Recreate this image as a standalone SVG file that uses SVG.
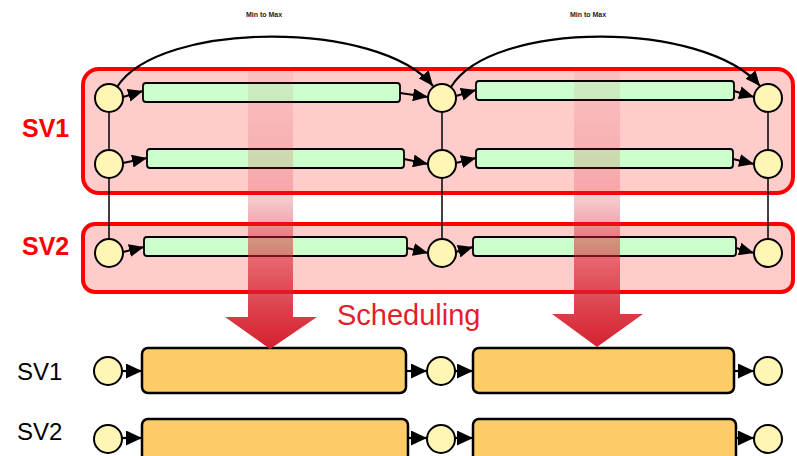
<svg xmlns="http://www.w3.org/2000/svg" width="797" height="456" viewBox="0 0 797 456">
<style>
.sv{fill:#ffcccc;stroke:#ff0000;stroke-width:4}
.bar{fill:#ccffcc;stroke:#000;stroke-width:1.8}
.nd{fill:#fff5b5;stroke:#000;stroke-width:2}
.ob{fill:#fecb69;stroke:#000;stroke-width:2.5}
.c{stroke:#000;stroke-width:2.2;fill:none}
.v{stroke:#000;stroke-width:1.5;fill:none}
.lbl{font-family:'Liberation Sans',Arial,sans-serif;font-weight:bold;font-size:25px;fill:#ff0000}
.lb2{font-family:'Liberation Sans',Arial,sans-serif;font-size:24px;fill:#000}
.mm{font-family:'Liberation Sans',Arial,sans-serif;font-weight:bold;font-size:7px;fill:#222;text-anchor:middle}
.big{fill:url(#g)}
</style>
<defs>
<marker id="a" markerUnits="userSpaceOnUse" markerWidth="15" markerHeight="13" refX="15" refY="6.5" orient="auto"><path d="M0,0 L15,6.5 L0,13 z" fill="#000"/></marker>
<marker id="b" markerUnits="userSpaceOnUse" markerWidth="16" markerHeight="15" refX="16" refY="7.5" orient="auto"><path d="M0,0 L16,7.5 L0,15 z" fill="#000"/></marker>
<linearGradient id="g" x1="0" y1="70" x2="0" y2="349" gradientUnits="userSpaceOnUse">
<stop offset="0" stop-color="#c8303a" stop-opacity="0.07"/>
<stop offset="0.45" stop-color="#d6202e" stop-opacity="0.22"/>
<stop offset="0.62" stop-color="#d6202e" stop-opacity="0.5"/>
<stop offset="0.85" stop-color="#d6202e" stop-opacity="0.85"/>
<stop offset="1" stop-color="#d6202e" stop-opacity="1"/>
</linearGradient>
</defs>

<g id="sv1-box"><rect class="sv" x="83" y="69" width="710" height="124" rx="16"/></g>
<g id="sv2-box"><rect class="sv" x="83" y="224" width="710" height="68" rx="12"/></g>

<text class="mm" x="264" y="17">Min to Max</text>
<text class="mm" x="588" y="17">Min to Max</text>
<text class="lbl" x="22" y="137">SV1</text>
<text class="lbl" x="22" y="255">SV2</text>

<g id="connectors">
<line class="v" x1="109" y1="98" x2="109" y2="253"/>
<line class="v" x1="442" y1="98" x2="442" y2="253"/>
<line class="v" x1="768" y1="98" x2="768" y2="253"/>
<path class="c" d="M117,87 C160,20 380,20 433,86" marker-end="url(#a)"/>
<path class="c" d="M451,87 C492,20 705,20 760,86" marker-end="url(#a)"/>
<line class="c" x1="123" y1="97" x2="143" y2="91" marker-end="url(#a)"/>
<line class="c" x1="400" y1="93" x2="428" y2="97" marker-end="url(#a)"/>
<line class="c" x1="456" y1="96" x2="476" y2="90" marker-end="url(#a)"/>
<line class="c" x1="734" y1="91" x2="754" y2="97" marker-end="url(#a)"/>
<line class="c" x1="123" y1="163" x2="147" y2="158" marker-end="url(#a)"/>
<line class="c" x1="404" y1="159" x2="428" y2="164" marker-end="url(#a)"/>
<line class="c" x1="456" y1="163" x2="476" y2="158" marker-end="url(#a)"/>
<line class="c" x1="733" y1="159" x2="754" y2="164" marker-end="url(#a)"/>
<line class="c" x1="123" y1="252" x2="144" y2="247" marker-end="url(#a)"/>
<line class="c" x1="407" y1="248" x2="428" y2="253" marker-end="url(#a)"/>
<line class="c" x1="456" y1="252" x2="473" y2="247" marker-end="url(#a)"/>
<line class="c" x1="736" y1="248" x2="754" y2="253" marker-end="url(#a)"/>
<line class="c" x1="122" y1="371" x2="142" y2="371" marker-end="url(#b)"/>
<line class="c" x1="406" y1="371" x2="427" y2="371" marker-end="url(#b)"/>
<line class="c" x1="455" y1="371" x2="473" y2="371" marker-end="url(#b)"/>
<line class="c" x1="734" y1="371" x2="754" y2="371" marker-end="url(#b)"/>
<line class="c" x1="122" y1="438" x2="142" y2="438" marker-end="url(#b)"/>
<line class="c" x1="408" y1="438" x2="427" y2="438" marker-end="url(#b)"/>
<line class="c" x1="455" y1="438" x2="473" y2="438" marker-end="url(#b)"/>
<line class="c" x1="736" y1="438" x2="754" y2="438" marker-end="url(#b)"/>
</g>

<g id="t1a"><rect class="bar" x="143" y="83" width="257" height="19" rx="3"/></g>
<g id="t1b"><rect class="bar" x="476" y="81" width="258" height="19" rx="3"/></g>
<g id="t2a"><rect class="bar" x="147" y="149" width="257" height="19" rx="3"/></g>
<g id="t2b"><rect class="bar" x="476" y="149" width="257" height="19" rx="3"/></g>
<g id="t3a"><rect class="bar" x="144" y="237" width="263" height="19" rx="3"/></g>
<g id="t3b"><rect class="bar" x="473" y="237" width="263" height="19" rx="3"/></g>

<g id="n11"><circle class="nd" cx="109" cy="98" r="14"/></g>
<g id="n12"><circle class="nd" cx="442" cy="98" r="14"/></g>
<g id="n13"><circle class="nd" cx="768" cy="98" r="14"/></g>
<g id="n21"><circle class="nd" cx="109" cy="164" r="14"/></g>
<g id="n22"><circle class="nd" cx="442" cy="164" r="14"/></g>
<g id="n23"><circle class="nd" cx="768" cy="164" r="14"/></g>
<g id="n31"><circle class="nd" cx="109" cy="253" r="14"/></g>
<g id="n32"><circle class="nd" cx="442" cy="253" r="14"/></g>
<g id="n33"><circle class="nd" cx="768" cy="253" r="14"/></g>

<text class="lb2" x="17" y="380">SV1</text>
<text class="lb2" x="17" y="440">SV2</text>

<g id="o1a"><rect class="ob" x="142" y="348" width="264" height="45" rx="6"/></g>
<g id="o1b"><rect class="ob" x="473" y="348" width="261" height="45" rx="6"/></g>
<g id="o2a"><rect class="ob" x="142" y="419" width="266" height="50" rx="6"/></g>
<g id="o2b"><rect class="ob" x="473" y="419" width="263" height="50" rx="6"/></g>
<g id="b11"><circle class="nd" cx="108" cy="371" r="14"/></g>
<g id="b12"><circle class="nd" cx="441" cy="371" r="14"/></g>
<g id="b13"><circle class="nd" cx="768" cy="371" r="14"/></g>
<g id="b21"><circle class="nd" cx="108" cy="439" r="14"/></g>
<g id="b22"><circle class="nd" cx="441" cy="439" r="14"/></g>
<g id="b23"><circle class="nd" cx="768" cy="439" r="14"/></g>

<g id="sched1"><path class="big" d="M248,70 L293,70 L293,317 L317,317 L270,349 L225,317 L248,317 z"/></g>
<g id="sched2"><path class="big" d="M574,68 L620,68 L620,314 L643,314 L597,347 L552,314 L574,314 z"/></g>
<text x="337" y="325" style="font-family:'Liberation Sans',Arial,sans-serif;font-size:29px;fill:#e31e2d">Scheduling</text>
</svg>
